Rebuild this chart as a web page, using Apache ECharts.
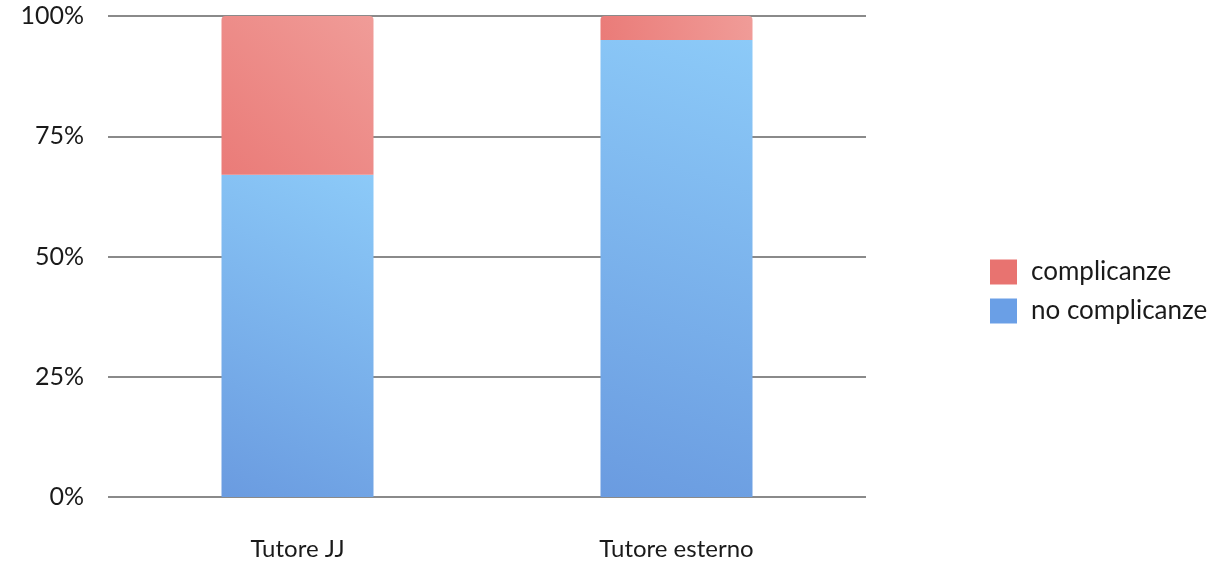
<!DOCTYPE html>
<html><head><meta charset="utf-8">
<script src="https://cdn.jsdelivr.net/npm/echarts@6/dist/echarts.min.js"></script>
<style>html,body{margin:0;padding:0;background:#fff}#c{width:1228px;height:562px}</style>
</head><body><div id="c"></div>
<script>
const categories = ['Tutore JJ', 'Tutore esterno'];
const noComplicanze = [67, 95];
const complicanze = [33, 5];
const yTicks = [0, 25, 50, 75, 100];

const font = 'Lato, "Open Sans", sans-serif';
const chart = echarts.init(document.getElementById('c'));
function grad(c1, c2) {
  return new echarts.graphic.LinearGradient(0, 1, 1, 0, [{offset: 0, color: c1}, {offset: 1, color: c2}]);
}
chart.setOption({
  animation: false,
  textStyle: {fontFamily: font},
  legend: {
    orient: 'vertical', left: 985, top: 254,
    itemWidth: 27, itemHeight: 25, itemGap: 13,
    icon: 'rect',
    textStyle: {fontSize: 26, color: '#1a1a1a', fontFamily: font, padding: [0, 0, 0, 9]},
    data: [
      {name: 'complicanze', itemStyle: {color: '#e87370'}},
      {name: 'no complicanze', itemStyle: {color: '#6a9fe6'}}
    ]
  },
  grid: {left: 108, top: 16, width: 758, bottom: 65},
  xAxis: {
    type: 'category', data: categories,
    axisLine: {show: false}, axisTick: {show: false},
    axisLabel: {fontSize: 24, color: '#1a1a1a', margin: 40, fontFamily: font}
  },
  yAxis: {
    type: 'value', min: 0, max: 100, interval: 25,
    axisLabel: {fontSize: 25, color: '#1a1a1a', margin: 24, fontFamily: font,
      formatter: v => yTicks.includes(v) ? v + '%' : ''},
    splitLine: {lineStyle: {color: '#8a8a8a', width: 2}},
    axisLine: {show: false}, axisTick: {show: false}
  },
  series: [
    {name: 'no complicanze', type: 'bar', stack: 's', barWidth: 152, data: noComplicanze,
      itemStyle: {color: grad('#6a9be0', '#8ccaf8')}},
    {name: 'complicanze', type: 'bar', stack: 's', barWidth: 152, data: complicanze,
      itemStyle: {color: grad('#ea7b78', '#f09c98'), borderRadius: [4, 4, 0, 0]}}
  ]
});
</script></body></html>
